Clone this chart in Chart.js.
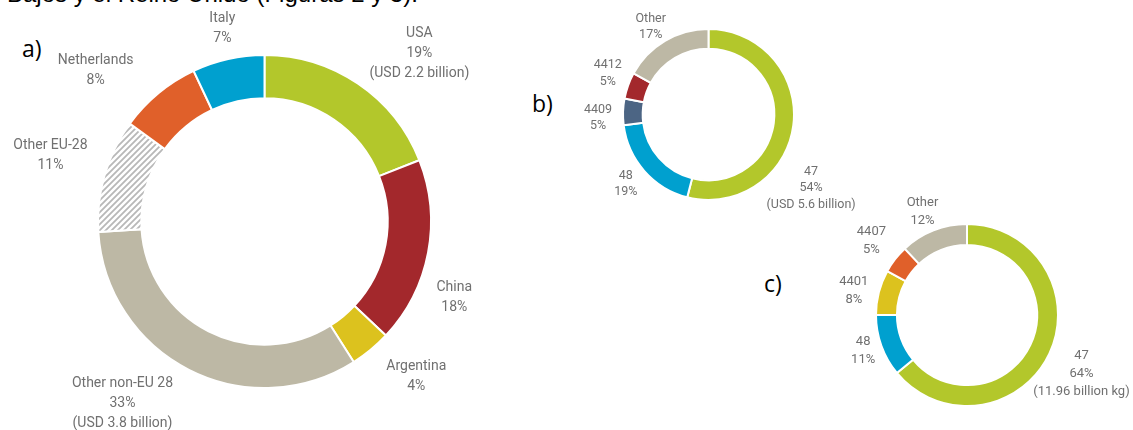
<!DOCTYPE html>
<html lang="en">
<head>
    <meta charset="UTF-8">
    <title>Doughnuts a b c</title>
    <script src="https://cdn.jsdelivr.net/npm/chart.js@4.4.8/dist/chart.umd.min.js"></script>
    <style>
        body { margin: 0; background: #fff; width: 1133px; height: 430px; overflow: hidden; position: relative; }
        canvas { position: absolute; left: 0; top: 0; }
        .tag { position: absolute; font-family: "Open Sans", sans-serif; font-size: 23px; color: #000; line-height: 1; }
        #heading { position: absolute; left: 7px; top: -18px; font-family: "Liberation Sans", sans-serif; font-size: 24px; line-height: 24px; color: #000; white-space: nowrap; }
    </style>
</head>
<body>
<div id="heading">Bajos y el Reino Unido (Figuras 2 y 3).</div>
<div class="tag" style="left:22px; top:37px;">a)</div>
<div class="tag" style="left:532px; top:92px;">b)</div>
<div class="tag" style="left:764px; top:272px;">c)</div>
<canvas id="chartA" width="1133" height="430"></canvas>
<canvas id="chartB" width="1133" height="430"></canvas>
<canvas id="chartC" width="1133" height="430"></canvas>

<script>
    // a) share by destination
    const labelsA = [['USA', '19%', '(USD 2.2 billion)'], ['China', '18%'], ['Argentina', '4%'],
        ['Other non-EU 28', '33%', '(USD 3.8 billion)'], ['Other EU-28', '11%'], ['Netherlands', '8%'], ['Italy', '7%']];
    const valuesA = [19, 18, 4, 33, 11, 8, 7];

    // b) share by chapter / heading
    const labelsB = [['47', '54%', '(USD 5.6 billion)'], ['48', '19%'], ['4409', '5%'], ['4412', '5%'], ['Other', '17%']];
    const valuesB = [54, 19, 5, 5, 17];

    // c) share by volume
    const labelsC = [['47', '64%', '(11.96 billion kg)'], ['48', '11%'], ['4401', '8%'], ['4407', '5%'], ['Other', '12%']];
    const valuesC = [64, 11, 8, 5, 12];

    const green = '#b3c72b', red = '#a3282c', yellow = '#dcc21e', beige = '#bdb8a5',
        orange = '#e0602a', blue = '#00a0cf', slate = '#4c6584';

    // diagonal stripes for "Other EU-28"
    const tile = document.createElement('canvas');
    tile.width = 6; tile.height = 6;
    const t = tile.getContext('2d');
    t.fillStyle = '#fff';
    t.fillRect(0, 0, 6, 6);
    t.strokeStyle = '#b8b8b8';
    t.lineWidth = 1.8;
    t.beginPath();
    t.moveTo(-1, 7); t.lineTo(7, -1);
    t.moveTo(-4, 4); t.lineTo(4, -4);
    t.moveTo(2, 10); t.lineTo(10, 2);
    t.stroke();
    const hatch = t.createPattern(tile, 'repeat');

    // label nudges from a point 45px (a) / 30px (b, c) outside the ring
    const nudgeA = [[36, 7], [-18, 36], [17, -8], [-46, -6], [-11, -7], [-34, 12], [4, 13]];
    const nudgeB = [[-12, 59], [4, -7], [5, 7], [8, -2], [1, 12]];
    const nudgeC = [[5, 7], [10, -5], [4, 6], [0, 0], [0, 9]];

    const ringLabels = {
        id: 'ringLabels',
        afterDatasetsDraw(chart, args, opts) {
            const ctx = chart.ctx;
            ctx.save();
            ctx.fillStyle = '#707070';
            ctx.font = opts.size + 'px Roboto';
            ctx.textAlign = 'center';
            ctx.textBaseline = 'middle';
            chart.getDatasetMeta(0).data.forEach((arc, i) => {
                const mid = (arc.startAngle + arc.endAngle) / 2;
                const r = arc.outerRadius + opts.gap;
                const x = arc.x + r * Math.cos(mid) + opts.nudge[i][0];
                const y = arc.y + r * Math.sin(mid) + opts.nudge[i][1];
                const lines = opts.text[i];
                const top = y - (lines.length - 1) * opts.lineHeight / 2;
                lines.forEach((s, k) => ctx.fillText(s, x, top + k * opts.lineHeight));
            });
            ctx.restore();
        }
    };

    function makeRing(id, values, colors, text, nudge, padding, cutout, size, lineHeight, gap) {
        return new Chart(document.getElementById(id), {
            type: 'doughnut',
            data: {
                labels: text.map(l => l[0]),
                datasets: [{
                    data: values,
                    backgroundColor: colors,
                    borderColor: '#fff',
                    borderWidth: 2
                }]
            },
            options: {
                responsive: false,
                animation: false,
                cutout: cutout,
                layout: { padding: padding },
                plugins: {
                    legend: { display: false },
                    tooltip: { enabled: false },
                    ringLabels: { text: text, nudge: nudge, size: size, lineHeight: lineHeight, gap: gap }
                }
            },
            plugins: [ringLabels]
        });
    }

    makeRing('chartA', valuesA, [green, red, yellow, beige, hatch, orange, blue], labelsA, nudgeA,
        { left: 97, top: 54, right: 701, bottom: 41 }, '74%', 14, 20, 45);
    makeRing('chartB', valuesB, [green, blue, slate, red, beige], labelsB, nudgeB,
        { left: 621, top: 28, right: 337, bottom: 229 }, '77%', 12.5, 16.5, 30);
    makeRing('chartC', valuesC, [green, blue, yellow, orange, beige], labelsC, nudgeC,
        { left: 875, top: 223, right: 74, bottom: 23 }, '77%', 13, 18, 30);
</script>
</body>
</html>
